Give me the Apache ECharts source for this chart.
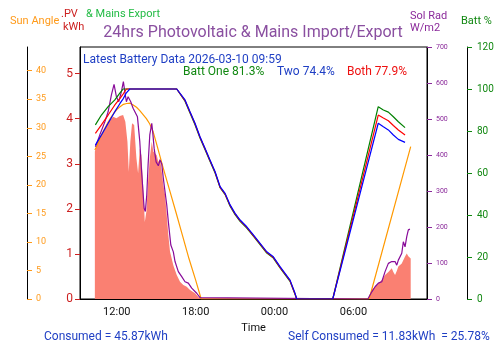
<!DOCTYPE html>
<html>
<head>
<meta charset="utf-8">
<script src="https://cdn.jsdelivr.net/npm/echarts@6/dist/echarts.min.js"></script>
<style>
  html, body { margin: 0; padding: 0; background: #fff; }
  #chart { width: 500px; height: 353px; }
</style>
</head>
<body>
<div id="chart"></div>
<script>
// time is hours from midnight of the first day (24+ = next day)
var xTickHours = [12, 18, 24, 30];

// PV generation (kWh)
var pvHours = [10.33, 10.58, 10.96, 11.34, 11.72, 11.97, 12.23, 12.48, 12.65, 12.81, 12.91, 13.03, 13.16, 13.32, 13.49, 13.62, 13.75, 13.87, 14.0, 14.13, 14.25, 14.38, 14.51, 14.66, 14.78, 15.04, 15.16, 15.29, 15.42, 15.54, 15.67, 15.80, 15.92, 16.05, 16.30, 16.56, 16.81, 17.06, 17.32, 17.57, 17.95, 18.28, 18.4,
  31.1, 31.4, 31.65, 31.9, 32.16, 32.41, 32.66, 32.92, 33.04, 33.17, 33.3, 33.42, 33.68, 33.93, 34.06, 34.18, 34.28, 34.36];
var pvKwh = [3.27, 3.53, 3.71, 3.93, 4.04, 4.01, 4.06, 4.08, 3.93, 3.49, 2.82, 3.49, 3.90, 3.86, 3.13, 2.79, 3.34, 3.19, 2.53, 1.71, 1.94, 2.60, 3.12, 3.49, 3.27, 3.19, 3.04, 3.12, 2.82, 2.53, 2.31, 1.86, 1.42, 1.05, 0.75, 0.53, 0.38, 0.31, 0.27, 0.20, 0.13, 0.02, 0,
  0, 0.20, 0.27, 0.35, 0.42, 0.53, 0.60, 0.68, 0.60, 0.53, 0.62, 0.72, 0.79, 0.94, 1.01, 0.95, 0.98, 0.90];

// sun angle (degrees)
var sunHours = [10.33, 10.5, 10.75, 11.0, 11.25, 11.5, 11.75, 12.0, 12.25, 12.5, 12.75, 13.0, 13.25, 13.5, 13.75, 14.0, 14.25, 14.5, 14.75, 15.0, 15.5, 16.0, 16.5, 17.0, 17.5, 18.0, 18.42, 31.2, 34.36];
var sunAngle = [26.1, 26.9, 28.3, 29.5, 30.6, 31.6, 32.5, 33.2, 33.7, 34.1, 34.25, 34.3, 34.0, 33.6, 33.0, 32.3, 31.6, 30.7, 29.4, 27.4, 23.2, 19.2, 15.2, 11.1, 7.0, 3.3, 0, 0, 26.7];

// solar radiation (W/m2)
var solHours = [10.37, 10.71, 11.09, 11.34, 11.59, 11.79, 11.97, 12.15, 12.35, 12.50, 12.61, 12.73, 12.86, 13.06, 13.24, 13.37, 13.57, 13.75, 13.87, 14.08, 14.17, 14.28, 14.38, 14.51, 14.66, 14.74, 14.84, 14.99, 15.16, 15.29, 15.42, 15.54, 15.67, 15.80, 15.92, 16.11, 16.30, 16.43, 16.68, 16.94, 17.19, 17.44, 17.70, 18.08, 18.33, 18.41,
  31.10, 31.40, 31.65, 31.90, 32.16, 32.41, 32.66, 32.92, 33.17, 33.30, 33.42, 33.68, 33.80, 33.93, 34.06, 34.18, 34.30];
var solRad = [423, 456, 492, 520, 567, 596, 562, 548, 576, 604, 576, 548, 562, 548, 530, 535, 506, 437, 363, 252, 243, 289, 372, 456, 488, 460, 419, 381, 370, 386, 375, 335, 298, 261, 215, 150, 131, 104, 76, 62, 48, 44, 30, 16, 4, 0,
  0, 20, 34, 44, 48, 76, 99, 104, 104, 94, 108, 127, 159, 145, 173, 192, 194];

// battery state of charge (%)
var battHours = [10.37, 10.83, 11.34, 11.85, 12.23, 12.48, 12.73, 12.99, 16.56, 17.19, 17.57, 17.95, 18.33, 18.71, 19.09, 19.48, 19.86, 20.24, 20.62, 21.00, 21.38, 21.89, 22.39, 22.90, 23.41, 23.91, 24.42, 24.80, 25.18, 25.56, 25.69, 28.43,
  31.89, 32.28, 32.66, 33.04, 33.42, 33.93];
var battOne = [82.9, 87.6, 91.6, 94.8, 98.0, 100, 100, 100, 100, 94.2, 88.6, 83.0, 76.7, 71.2, 65.6, 60.0, 53.0, 49.7, 44.2, 40.2, 37.0, 33.8, 29.9, 25.9, 21.9, 19.5, 14.8, 11.6, 8.4, 2.2, 0, 0,
  91.6, 90.0, 89.0, 86.8, 84.4, 81.6];
var battBoth = [78.9, 82.9, 87.6, 92.4, 95.4, 97.6, 100, 100, 100, 94.5, 88.9, 83.4, 77.0, 71.5, 65.9, 60.3, 53.2, 50.0, 44.5, 40.5, 37.3, 34.1, 30.2, 26.2, 22.2, 19.8, 15.1, 11.9, 8.7, 2.4, 0, 0,
  87.6, 86.2, 84.9, 82.6, 80.5, 78.1];
var battTwo = [73.3, 78.1, 83.7, 89.2, 93.0, 95.3, 98.2, 100, 100, 94.8, 89.2, 83.7, 77.3, 71.8, 66.2, 60.6, 53.5, 50.3, 44.8, 40.8, 37.6, 34.4, 30.5, 26.5, 22.5, 20.1, 15.4, 12.2, 9.0, 2.7, 0, 0,
  83.7, 82.0, 80.5, 78.1, 76.0, 74.6];

var pvTicks = [0, 1, 2, 3, 4, 5];
var sunTicks = [0, 5, 10, 15, 20, 25, 30, 35, 40];

function pairs(xs, ys) {
  var out = [];
  for (var i = 0; i < Math.min(xs.length, ys.length); i++) out.push([xs[i], ys[i]]);
  return out;
}

function hhmm(h) {
  var hh = Math.round(h) % 24;
  return (hh < 10 ? '0' : '') + hh + ':00';
}

var chart = echarts.init(document.getElementById('chart'));
var font = 'Roboto';
var blueTxt = '#1f3fc4';

function txt(text, x, y, color, size, align) {
  return {
    type: 'text', x: x, y: y,
    style: { text: text, fill: color, font: size + 'px ' + font, textAlign: align || 'left', textVerticalAlign: 'middle' }
  };
}

chart.setOption({
  animation: false,
  textStyle: { fontFamily: font },
  grid: { left: 80, right: 73, top: 47, bottom: 54, show: true, borderColor: '#000', borderWidth: 1 },
  graphic: [
    txt('24hrs Photovoltaic & Mains Import/Export', 253, 33, '#8a4fa0', 16, 'center'),
    txt('Sun Angle', 10, 21, '#ff9a1a', 11),
    txt('.PV', 61, 14, '#cc2020', 11),
    txt('kWh', 63, 27, '#cc2020', 11),
    txt('& Mains Export', 86, 14, '#22bb44', 11),
    txt('Sol Rad', 410, 16, '#8b2a9b', 11),
    txt('W/m2', 410, 28, '#8b2a9b', 11),
    txt('Batt %', 461, 21, '#118811', 11),
    txt('Latest Battery Data 2026-03-10 09:59', 83, 60, blueTxt, 12),
    txt('Batt One 81.3%', 183, 72, '#118811', 12),
    txt('Two 74.4%', 277, 72, blueTxt, 12),
    txt('Both 77.9%', 347, 72, '#ee1111', 12),
    txt('Consumed = 45.87kWh', 44, 337, blueTxt, 12),
    txt('Self Consumed = 11.83kWh  = 25.78%', 288, 337, blueTxt, 12)
  ],
  xAxis: {
    type: 'value', min: 9.2, max: 35.6,
    name: 'Time', nameLocation: 'middle', nameGap: 23,
    nameTextStyle: { color: '#111', fontSize: 11 },
    axisLine: { lineStyle: { color: '#000' } },
    axisTick: { show: false },
    splitLine: { show: false },
    axisLabel: { customValues: xTickHours, formatter: hhmm, color: '#111', fontSize: 11, margin: 8 }
  },
  yAxis: [
    {
      type: 'value', position: 'left', min: 0, max: 5.59,
      axisLine: { show: true, lineStyle: { color: '#000' } },
      axisTick: { show: true, customValues: pvTicks, length: 5, lineStyle: { color: '#cc2020' } },
      axisLabel: { customValues: pvTicks, color: '#cc2020', fontSize: 12, margin: 7 },
      splitLine: { show: false }
    },
    {
      type: 'value', position: 'left', offset: 53, min: 0, max: 44.15,
      axisLine: { show: true, lineStyle: { color: '#000' } },
      axisTick: { show: true, inside: true, customValues: sunTicks, length: 5, lineStyle: { color: '#ff9a1a' } },
      axisLabel: { inside: true, customValues: sunTicks, color: '#ff9a1a', fontSize: 9, margin: 9 },
      splitLine: { show: false }
    },
    {
      type: 'value', position: 'right', min: 0, max: 700, interval: 100,
      axisLine: { show: true, lineStyle: { color: '#000' } },
      axisTick: { show: true, length: 5, lineStyle: { color: '#8b2a9b' } },
      axisLabel: { color: '#8b2a9b', fontSize: 7, margin: 9 },
      splitLine: { show: false }
    },
    {
      type: 'value', position: 'right', offset: 40, min: 0, max: 120, interval: 20,
      axisLine: { show: true, lineStyle: { color: '#000' } },
      axisTick: { show: true, length: 5, lineStyle: { color: '#118811' } },
      axisLabel: { color: '#118811', fontSize: 10, margin: 10 },
      splitLine: { show: false }
    }
  ],
  series: [
    {
      name: 'PV', type: 'line', yAxisIndex: 0, data: pairs(pvHours, pvKwh),
      showSymbol: false, lineStyle: { width: 0 }, areaStyle: { color: '#fa8072', opacity: 1 }, z: 1
    },
    {
      name: 'Sun Angle', type: 'line', yAxisIndex: 1, data: pairs(sunHours, sunAngle),
      showSymbol: false, lineStyle: { color: '#ff9900', width: 1.2 }, z: 2
    },
    {
      name: 'Sol Rad', type: 'line', yAxisIndex: 2, data: pairs(solHours, solRad),
      showSymbol: false, lineStyle: { color: '#880a99', width: 1.2 }, z: 3
    },
    {
      name: 'Batt One', type: 'line', yAxisIndex: 3, data: pairs(battHours, battOne),
      showSymbol: false, lineStyle: { color: '#008000', width: 1.2 }, z: 4
    },
    {
      name: 'Both', type: 'line', yAxisIndex: 3, data: pairs(battHours, battBoth),
      showSymbol: false, lineStyle: { color: '#ff0000', width: 1.2 }, z: 5
    },
    {
      name: 'Two', type: 'line', yAxisIndex: 3, data: pairs(battHours, battTwo),
      showSymbol: false, lineStyle: { color: '#0000ff', width: 1.2 }, z: 6
    }
  ]
});
</script>
</body>
</html>
